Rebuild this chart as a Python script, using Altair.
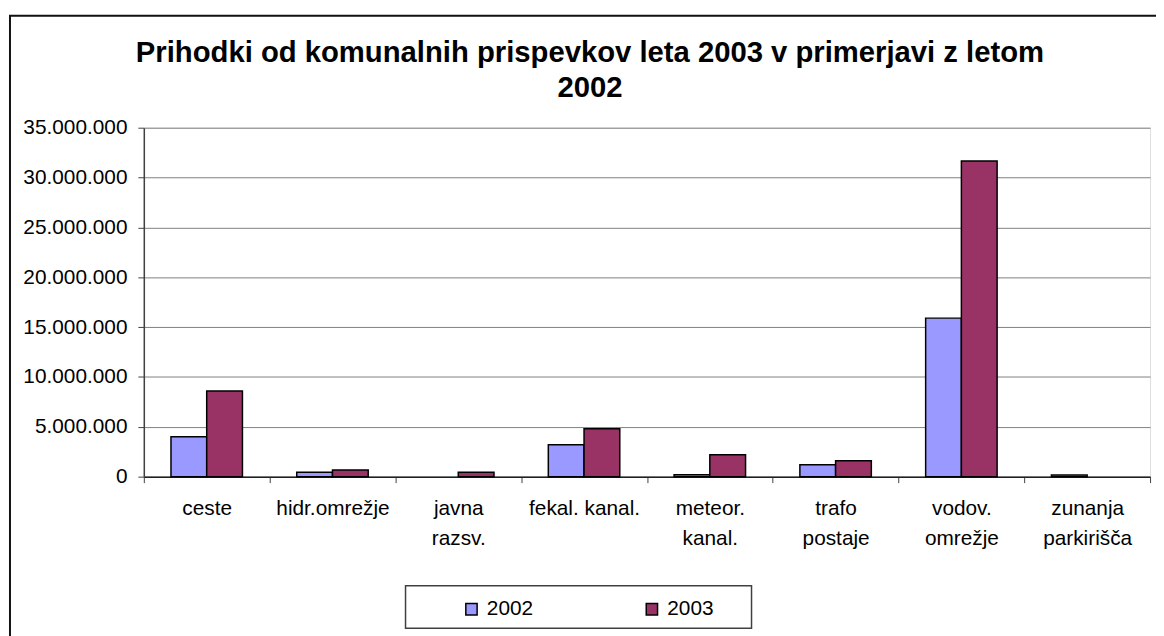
import altair as alt
import pandas as pd

title_text = "Prihodki od komunalnih prispevkov leta 2003 v primerjavi z letom\n2002"
categories = ["ceste", "hidr.omrežje", "javna\nrazsv.", "fekal. kanal.",
              "meteor.\nkanal.", "trafo\npostaje", "vodov.\nomrežje", "zunanja\nparkirišča"]
years = ["2002", "2003"]
values_2002 = [4000000, 430000, 0, 3200000, 180000, 1200000, 15900000, 160000]
values_2003 = [8580000, 670000, 430000, 4800000, 2190000, 1600000, 31650000, 0]
colors = ["#9999FF", "#993366"]
y_ticks = [0, 5000000, 10000000, 15000000, 20000000, 25000000, 30000000, 35000000]

rows = []
for c, a, b in zip(categories, values_2002, values_2003):
    rows.append({"kat": c, "leto": "2002", "vrednost": a})
    rows.append({"kat": c, "leto": "2003", "vrednost": b})
df = pd.DataFrame(rows)

FONT = "Liberation Sans"

bars = alt.Chart(df).transform_filter("datum.vrednost > 0").mark_bar(
    stroke="black", strokeWidth=1.5
).encode(
    x=alt.X("kat:N", sort=categories,
            scale=alt.Scale(paddingInner=0, paddingOuter=0),
            axis=alt.Axis(title=None, labelAngle=0, labelFont=FONT, labelFontSize=21,
                          labelColor="black", labelExpr="split(datum.label, '\\n')",
                          labelLineHeight=30, labelBaseline="top", labelPadding=15,
                          tickBand="extent", tickSize=6, tickColor="#404040",
                          domainColor="#202020", domainWidth=1.5, grid=False)),
    xOffset=alt.XOffset("leto:N", sort=years,
                        scale=alt.Scale(paddingInner=0, paddingOuter=0.76)),
    y=alt.Y("vrednost:Q",
            scale=alt.Scale(domain=[0, 35000000], nice=False),
            axis=alt.Axis(title=None, values=y_ticks, labelFont=FONT, labelFontSize=21,
                          labelColor="black", labelPadding=11,
                          labelExpr="join(split(format(datum.value, ','), ','), '.')",
                          tickSize=6, tickColor="#404040", domainColor="#404040",
                          domainWidth=1.5, gridColor="#808080", gridWidth=1)),
    color=alt.Color("leto:N", title=None, sort=years,
                    scale=alt.Scale(domain=years, range=colors),
                    legend=alt.Legend(orient="none", legendX=320, legendY=475,
                                      direction="horizontal", symbolType="square",
                                      symbolSize=130, symbolStrokeColor="black",
                                      symbolStrokeWidth=1.5, labelFont=FONT,
                                      labelFontSize=21, labelColor="black",
                                      labelOffset=5, columnPadding=109, padding=0)),
)

one = pd.DataFrame({"a": [0]})

frame = alt.Chart(one).mark_rect(
    fill="white", fillOpacity=0, stroke="#111111", strokeWidth=2
).encode(x=alt.value(-135), x2=alt.value(1030), y=alt.value(-113), y2=alt.value(600))

legend_box = alt.Chart(one).mark_rect(
    fill="white", stroke="#404040", strokeWidth=1.5
).encode(x=alt.value(264), x2=alt.value(613), y=alt.value(462), y2=alt.value(505))

title = alt.Chart(one).mark_text(
    font=FONT, fontSize=29.5, fontWeight="bold", color="black", align="center",
    baseline="alphabetic", lineBreak="\n", lineHeight=35
).encode(x=alt.value(450), y=alt.value(-66), text=alt.value(title_text))

chart = alt.layer(frame, legend_box, bars, title).properties(
    width=1015, height=352,
    autosize="none",
    padding={"left": 137, "top": 118, "right": 6, "bottom": 158},
).configure_view(stroke="#808080", strokeWidth=1.5).configure(background="white")

chart.save("out.html", embed_options={"renderer": "svg", "actions": False})
